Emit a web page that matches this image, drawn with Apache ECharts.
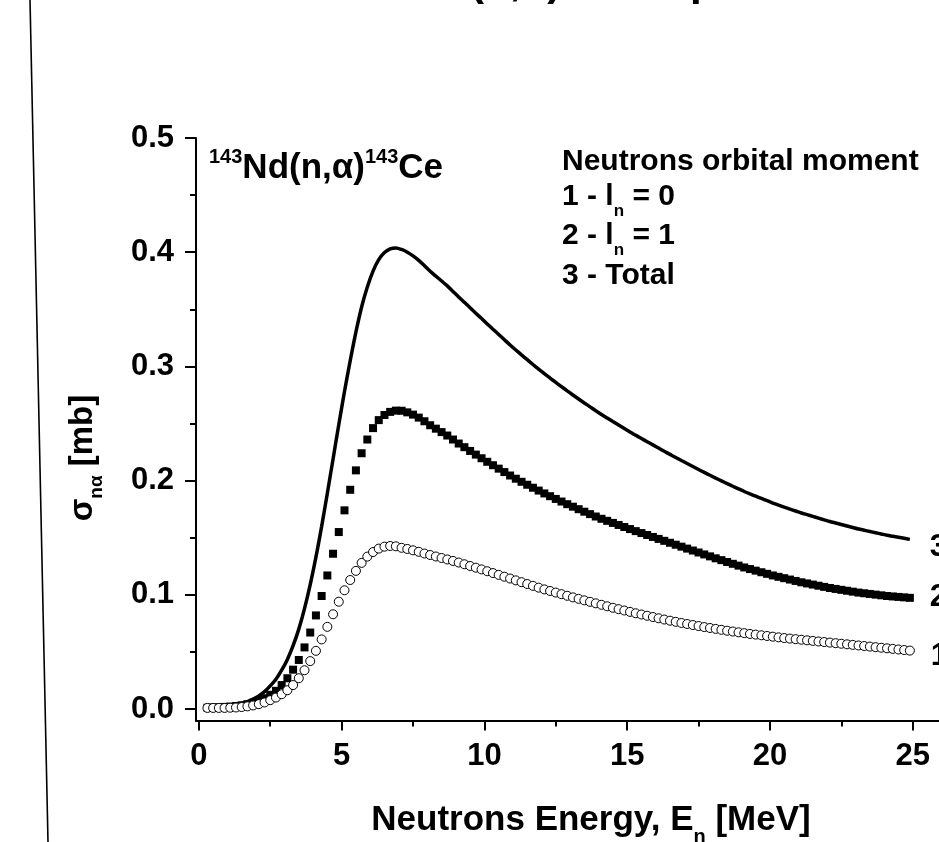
<!DOCTYPE html>
<html><head><meta charset="utf-8">
<script src="https://cdn.jsdelivr.net/npm/echarts@6/dist/echarts.min.js"></script>
<style>html,body{margin:0;padding:0;background:#fff}#c{width:939px;height:842px}</style>
</head><body><div id="c"></div>
<script>
const energy = [0.3,0.5,0.7,0.9,1.1,1.3,1.5,1.7,1.9,2.1,2.3,2.5,2.7,2.9,3.1,3.3,3.5,3.7,3.9,4.1,4.3,4.5,4.7,4.9,5.1,5.3,5.5,5.7,5.9,6.1,6.3,6.5,6.7,6.9,7.1,7.3,7.5,7.7,7.9,8.1,8.3,8.5,8.7,8.9,9.1,9.3,9.5,9.7,9.9,10.1,10.3,10.5,10.7,10.9,11.1,11.3,11.5,11.7,11.9,12.1,12.3,12.5,12.7,12.9,13.1,13.3,13.5,13.7,13.9,14.1,14.3,14.5,14.7,14.9,15.1,15.3,15.5,15.7,15.9,16.1,16.3,16.5,16.7,16.9,17.1,17.3,17.5,17.7,17.9,18.1,18.3,18.5,18.7,18.9,19.1,19.3,19.5,19.7,19.9,20.1,20.3,20.5,20.7,20.9,21.1,21.3,21.5,21.7,21.9,22.1,22.3,22.5,22.7,22.9,23.1,23.3,23.5,23.7,23.9,24.1,24.3,24.5,24.7,24.9];
// curve 1 : l_n = 0 (open circles)
const sigmaL0 = [0.0010,0.0010,0.0010,0.0010,0.0012,0.0014,0.0018,0.0024,0.0032,0.0043,
0.0058,0.0078,0.0101,0.0130,0.0165,0.0210,0.0270,0.0340,0.0420,0.0510,
0.0610,0.0720,0.0830,0.0940,0.1040,0.1130,0.1210,0.1280,0.1335,0.1375,
0.1405,0.1422,0.1428,0.1425,0.1412,0.1402,0.1390,0.1377,0.1362,0.1349,
0.1336,0.1323,0.1310,0.1297,0.1283,0.1268,0.1253,0.1238,0.1223,0.1207,
0.1191,0.1175,0.1159,0.1143,0.1127,0.1111,0.1095,0.1079,0.1063,0.1048,
0.1034,0.1020,0.1006,0.0992,0.0978,0.0965,0.0952,0.0939,0.0926,0.0913,
0.0900,0.0887,0.0875,0.0863,0.0851,0.0839,0.0828,0.0817,0.0806,0.0795,
0.0784,0.0774,0.0764,0.0754,0.0745,0.0736,0.0727,0.0718,0.0710,0.0702,
0.0694,0.0686,0.0679,0.0672,0.0665,0.0658,0.0652,0.0646,0.0640,0.0634,
0.0628,0.0622,0.0617,0.0612,0.0607,0.0602,0.0597,0.0592,0.0587,0.0582,
0.0577,0.0572,0.0567,0.0562,0.0557,0.0552,0.0547,0.0542,0.0537,0.0532,
0.0527,0.0522,0.0517,0.0512];
// curve 2 : l_n = 1 (filled squares)
const sigmaL1 = [0.0012,0.0014,0.0016,0.0019,0.0022,0.0027,0.0033,0.0042,0.0055,0.0072,
0.0095,0.0125,0.0160,0.0210,0.0270,0.0345,0.0430,0.0540,0.0670,0.0820,
0.0990,0.1170,0.1360,0.1550,0.1740,0.1920,0.2090,0.2240,0.2360,0.2460,
0.2530,0.2575,0.2602,0.2613,0.2612,0.2598,0.2578,0.2552,0.2520,0.2485,
0.2455,0.2425,0.2395,0.2360,0.2325,0.2293,0.2260,0.2228,0.2196,0.2165,
0.2135,0.2105,0.2075,0.2045,0.2017,0.1990,0.1964,0.1938,0.1913,0.1888,
0.1864,0.1840,0.1817,0.1794,0.1772,0.1750,0.1728,0.1707,0.1686,0.1666,
0.1648,0.1630,0.1612,0.1594,0.1576,0.1558,0.1541,0.1524,0.1507,0.1490,
0.1473,0.1456,0.1439,0.1422,0.1405,0.1388,0.1371,0.1354,0.1337,0.1320,
0.1304,0.1288,0.1272,0.1256,0.1240,0.1226,0.1212,0.1198,0.1184,0.1170,
0.1158,0.1146,0.1134,0.1122,0.1110,0.1100,0.1090,0.1080,0.1070,0.1060,
0.1052,0.1044,0.1036,0.1028,0.1020,0.1014,0.1008,0.1002,0.0996,0.0990,
0.0986,0.0982,0.0978,0.0974];
// curve 3 : total (solid line)
const sigmaTotal = [0.0022,0.0024,0.0026,0.0029,0.0034,0.0041,0.0051,0.0066,0.0087,0.0115,
0.0153,0.0203,0.0261,0.0340,0.0435,0.0555,0.0700,0.0880,0.1090,0.1330,
0.1600,0.1890,0.2190,0.2490,0.2780,0.3050,0.3300,0.3520,0.3695,0.3835,
0.3935,0.3997,0.4030,0.4038,0.4024,0.4000,0.3968,0.3929,0.3882,0.3834,
0.3791,0.3748,0.3705,0.3657,0.3608,0.3561,0.3513,0.3466,0.3419,0.3372,
0.3326,0.3280,0.3234,0.3188,0.3144,0.3101,0.3059,0.3017,0.2976,0.2936,
0.2898,0.2860,0.2823,0.2786,0.2750,0.2715,0.2680,0.2646,0.2612,0.2579,
0.2548,0.2517,0.2487,0.2457,0.2427,0.2397,0.2369,0.2341,0.2313,0.2285,
0.2257,0.2230,0.2203,0.2176,0.2150,0.2124,0.2098,0.2072,0.2047,0.2022,
0.1998,0.1974,0.1951,0.1928,0.1905,0.1884,0.1864,0.1844,0.1824,0.1804,
0.1786,0.1768,0.1751,0.1734,0.1717,0.1702,0.1687,0.1672,0.1657,0.1642,
0.1629,0.1616,0.1603,0.1590,0.1577,0.1566,0.1555,0.1544,0.1533,0.1522,
0.1513,0.1504,0.1495,0.1486];
const xTicks = [0,5,10,15,20,25];
const xMinorTicks = [2.5,7.5,12.5,17.5,22.5];
const yTicks = [0,0.1,0.2,0.3,0.4,0.5];
const yMinorTicks = [0.05,0.15,0.25,0.35,0.45];
const curveLabels = ['1','2','3'];

const FONT = '"Liberation Sans", Arial, Helvetica, sans-serif';
const chart = echarts.init(document.getElementById('c'), null, {renderer:'canvas'});
const labelStyle = {fontSize:31, fontWeight:'bold', color:'#000', fontFamily:FONT};

function pairs(ys, label, dy){
  return energy.map((e,i)=>{
    if (label && i === energy.length-1) {
      return {value:[e, ys[i]], label:Object.assign({show:true, formatter:label, position:'right', distance:16, offset:[0, dy]}, labelStyle)};
    }
    return [e, ys[i]];
  });
}

const X_MIN = -0.1, X_MAX = 25.92, Y_MIN = -0.01, Y_MAX = 0.5;

chart.setOption({
  animation:false,
  backgroundColor:'#fff',
  grid:{left:196, top:138, width:743, height:582.5, containLabel:false},
  xAxis:[
    {type:'value', min:X_MIN, max:X_MAX, position:'bottom', splitLine:{show:false},
      axisLine:{show:true, onZero:false, lineStyle:{color:'#000', width:2}},
      axisTick:{show:true, customValues:xTicks, length:10, lineStyle:{color:'#000', width:2}},
      axisLabel:Object.assign({show:true, customValues:xTicks, margin:20, formatter:v=>String(v)}, labelStyle)},
    {type:'value', min:X_MIN, max:X_MAX, position:'bottom', splitLine:{show:false},
      axisLine:{show:false, onZero:false}, axisLabel:{show:false},
      axisTick:{show:true, customValues:xMinorTicks, length:6, lineStyle:{color:'#000', width:2}}}
  ],
  yAxis:[
    {type:'value', min:Y_MIN, max:Y_MAX, position:'left', splitLine:{show:false},
      axisLine:{show:true, onZero:false, lineStyle:{color:'#000', width:2}},
      axisTick:{show:true, customValues:yTicks, length:11, lineStyle:{color:'#000', width:2}},
      axisLabel:Object.assign({show:true, customValues:yTicks, margin:22, formatter:v=>v.toFixed(1)}, labelStyle)},
    {type:'value', min:Y_MIN, max:Y_MAX, position:'left', splitLine:{show:false},
      axisLine:{show:false, onZero:false}, axisLabel:{show:false},
      axisTick:{show:true, customValues:yMinorTicks, length:6, lineStyle:{color:'#000', width:2}}}
  ],
  series:[
    {type:'line', name:'Total', data:pairs(sigmaTotal, null, 0), showSymbol:false, symbol:'none', smooth:0.3,
      lineStyle:{color:'#000', width:3.5}, z:2,
      endLabel:Object.assign({show:true, formatter:curveLabels[2], distance:20, offset:[0, 8]}, labelStyle)},
    {type:'scatter', name:'l=1', data:pairs(sigmaL1, curveLabels[1], 0), symbol:'rect', symbolSize:8,
      itemStyle:{color:'#000', opacity:1}, z:3},
    {type:'scatter', name:'l=0', data:pairs(sigmaL0, curveLabels[0], 6), symbol:'circle', symbolSize:9,
      itemStyle:{color:'#fff', borderColor:'#000', borderWidth:1, opacity:1}, z:4}
  ],
  graphic:[
    {type:'line', shape:{x1:30, y1:0, x2:48, y2:842}, style:{stroke:'#000', lineWidth:1.6}},
    {type:'text', x:470, y:-38, style:{
      text:'{b|(n,α)}{s|143}{b|Ce spectrum}', fill:'#000',
      rich:{b:{fontSize:42, fontWeight:'bold', fontFamily:FONT, verticalAlign:'bottom'},
            s:{fontSize:24, fontWeight:'bold', fontFamily:FONT, verticalAlign:'top'}}}},
    {type:'text', x:209, y:147, style:{
      text:'{s|143}{b|Nd(n,α)}{s|143}{b|Ce}', fill:'#000',
      rich:{b:{fontSize:35, fontWeight:'bold', fontFamily:FONT, lineHeight:39, verticalAlign:'bottom'},
            s:{fontSize:20, fontWeight:'bold', fontFamily:FONT, lineHeight:20, verticalAlign:'top'}}}},
    {type:'text', x:562, y:147, style:{text:'Neutrons orbital moment', fill:'#000',
      font:'bold 30px '+FONT}},
    {type:'text', x:562, y:182, style:{text:'{b|1 - l}{s|n}{b| = 0}', fill:'#000',
      rich:{b:{fontSize:30, fontWeight:'bold', fontFamily:FONT, lineHeight:31, verticalAlign:'top'},
            s:{fontSize:17, fontWeight:'bold', fontFamily:FONT, lineHeight:17, padding:[21,0,0,0], verticalAlign:'top'}}}},
    {type:'text', x:562, y:221, style:{text:'{b|2 - l}{s|n}{b| = 1}', fill:'#000',
      rich:{b:{fontSize:30, fontWeight:'bold', fontFamily:FONT, lineHeight:31, verticalAlign:'top'},
            s:{fontSize:17, fontWeight:'bold', fontFamily:FONT, lineHeight:17, padding:[21,0,0,0], verticalAlign:'top'}}}},
    {type:'text', x:562, y:261, style:{text:'3 - Total', fill:'#000', font:'bold 30px '+FONT}},
    {type:'text', x:84, y:458, rotation:Math.PI/2, style:{
      text:'{b|σ}{s|nα}{b| [mb]}', fill:'#000', align:'center', verticalAlign:'middle',
      rich:{b:{fontSize:33, fontWeight:'bold', fontFamily:FONT, lineHeight:35, verticalAlign:'top'},
            s:{fontSize:19, fontWeight:'bold', fontFamily:FONT, lineHeight:19, padding:[21,0,0,0], verticalAlign:'top'}}}},
    {type:'text', x:591, y:803, style:{
      text:'{b|Neutrons Energy, E}{s|n}{b| [MeV]}', fill:'#000', align:'center',
      rich:{b:{fontSize:35, fontWeight:'bold', fontFamily:FONT, lineHeight:36, verticalAlign:'top'},
            s:{fontSize:20, fontWeight:'bold', fontFamily:FONT, lineHeight:20, padding:[24,0,0,0], verticalAlign:'top'}}}}
  ]
});
</script></body></html>
